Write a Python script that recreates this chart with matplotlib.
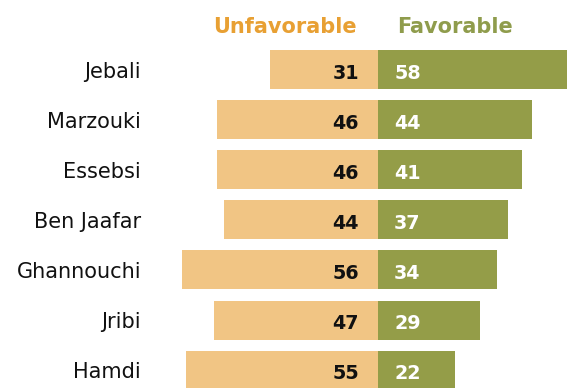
import matplotlib.pyplot as plt

# Favorability ratings of Tunisian political figures (percent)
names = ["Jebali", "Marzouki", "Essebsi", "Ben Jaafar", "Ghannouchi", "Jribi", "Hamdi"]
unfavorable = [31, 46, 46, 44, 56, 47, 55]
favorable = [58, 44, 41, 37, 34, 29, 22]

UNFAV_BAR = "#F1C584"
FAV_BAR = "#949D48"
UNFAV_HEAD = "#E8A033"
FAV_HEAD = "#8F9C4C"

plt.rcParams["font.family"] = ["Verdana", "DejaVu Sans"]

fig = plt.figure(figsize=(5.67, 3.88), dpi=100)
ax = fig.add_axes([0, 0, 1, 1])

y = list(range(len(names)))
ax.barh(y, [-v for v in unfavorable], height=0.78, color=UNFAV_BAR)
ax.barh(y, favorable, height=0.78, color=FAV_BAR)

for i, (name, u, f) in enumerate(zip(names, unfavorable, favorable)):
    ax.text(-67.7, i + 0.16, name, ha="right", va="baseline", fontsize=15,
            color="#111111")
    ax.text(-5.4, i + 0.18, str(u), ha="right", va="baseline", fontsize=13.8,
            fontweight="bold", color="#111111")
    ax.text(4.6, i + 0.18, str(f), ha="left", va="baseline", fontsize=13.8,
            fontweight="bold", color="white")

ax.text(-6.0, -0.74, "Unfavorable", ha="right", va="baseline", fontsize=15,
        fontweight="bold", color=UNFAV_HEAD)
ax.text(5.4, -0.74, "Favorable", ha="left", va="baseline", fontsize=15,
        fontweight="bold", color=FAV_HEAD)

ax.set_xlim(-108, 54)
ax.set_ylim(6.36, -1.4)
ax.axis("off")

fig.savefig("out.png", dpi=100)
